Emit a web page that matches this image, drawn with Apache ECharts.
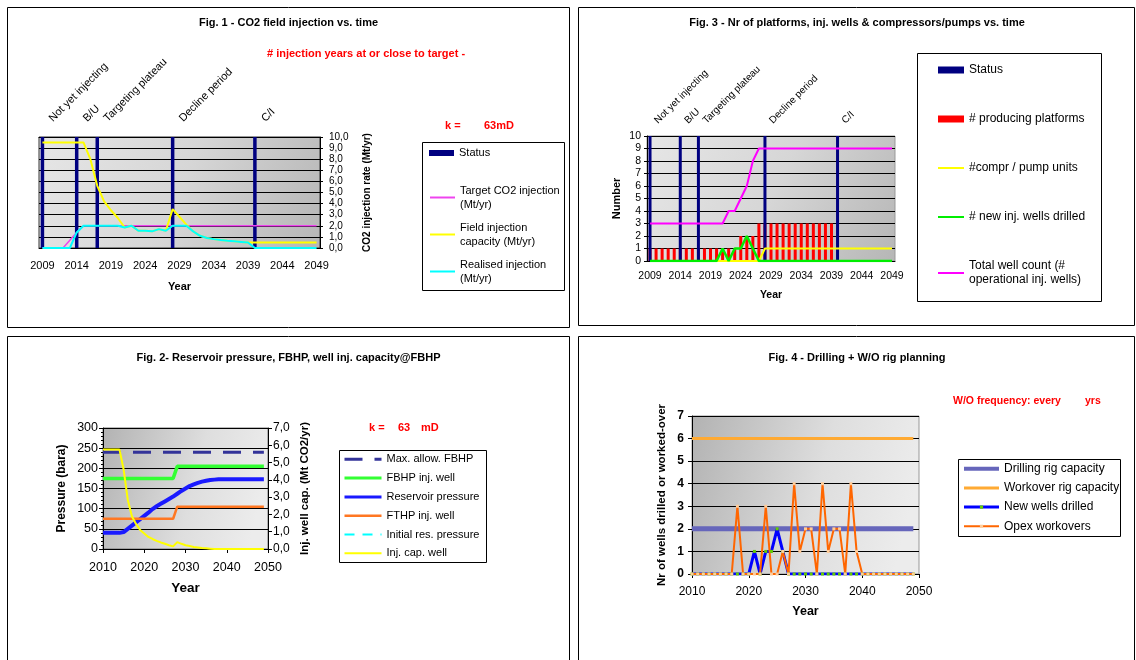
<!DOCTYPE html>
<html><head><meta charset="utf-8">
<script src="https://cdn.jsdelivr.net/npm/echarts@6/dist/echarts.min.js"></script>
<style>html,body{margin:0;padding:0;background:#fff}#c{width:1136px;height:660px}</style>
</head><body><div id="c"></div>
<script>
// ---------- categories ----------
const years1 = [2009,2010,2011,2012,2013,2014,2015,2016,2017,2018,2019,2020,2021,2022,2023,2024,2025,2026,2027,2028,2029,2030,2031,2032,2033,2034,2035,2036,2037,2038,2039,2040,2041,2042,2043,2044,2045,2046,2047,2048,2049];
const years2 = [2010,2011,2012,2013,2014,2015,2016,2017,2018,2019,2020,2021,2022,2023,2024,2025,2026,2027,2028,2029,2030,2031,2032,2033,2034,2035,2036,2037,2038,2039,2040,2041,2042,2043,2044,2045,2046,2047,2048,2049];
const statusYears = [2009, 2014, 2017, 2028, 2040];
const statusLabels = ['Not yet injecting', 'B/U', 'Targeting plateau', 'Decline period', 'C/I'];
const statusLevel = 10;

// ---------- Fig. 1 (2009-2049) ----------
const target1 = [0,0,0,0,0.7,1.4,2,2,2,2,2,2,2,2,2,2,2,2,2,2,2,2,2,2,2,2,2,2,2,2,2,2,2,2,2,2,2,2,2,2,2];
const fieldCap1 = [9.5,9.5,9.5,9.5,9.5,9.5,9.5,8.0,5.6,4.2,3.4,2.7,1.85,2.0,1.55,1.55,1.5,1.7,1.55,3.5,2.8,2.1,1.5,1.1,0.9,0.8,0.72,0.65,0.6,0.55,0.5,0.5,0.5,0.5,0.5,0.5,0.5,0.5,0.5,0.5,0.5];
const realised1 = [0,0,0,0,0,1.4,2,2,2,2,2,2,1.85,2.0,1.55,1.55,1.5,1.7,1.55,2,2,2,1.5,1.1,0.9,0.8,0.72,0.65,0.6,0.55,0.5,0,0,0,0,0,0,0,0,0,0];

// ---------- Fig. 3 (2009-2049) ----------
const platforms3 = [1,1,1,1,1,1,1,1,1,1,1,1,1,1,1,2,2,2,3,3,3,3,3,3,3,3,3,3,3,3,3,0,0,0,0,0,0,0,0,0,0];
const compr3 = [0,0,0,0,0,0,0,0,0,0,0,0,0,0,0,0,0,0,0,1,1,1,1,1,1,1,1,1,1,1,1,1,1,1,1,1,1,1,1,1,1];
const newWells3 = [0,0,0,0,0,0,0,0,0,0,0,0,1,0,1,1,2,1,0,0,0,0,0,0,0,0,0,0,0,0,0,0,0,0,0,0,0,0,0,0,0];
const totalWells3 = [3,3,3,3,3,3,3,3,3,3,3,3,3,4,4,5,6,8,9,9,9,9,9,9,9,9,9,9,9,9,9,9,9,9,9,9,9,9,9,9,9];

// ---------- Fig. 2 (2010-2049) ----------
const maxFbhp2 = [240,240,240,240,240,240,240,240,240,240,240,240,240,240,240,240,240,240,240,240,240,240,240,240,240,240,240,240,240,240,240,240,240,240,240,240,240,240,240,240];
const fbhp2 = [175,175,175,175,175,175,175,175,175,175,175,175,175,175,175,175,175,175,205,205,205,205,205,205,205,205,205,205,205,205,205,205,205,205,205,205,205,205,205,205];
const resP2 = [40,40,40,40,40,42,50,58,66,74,82,90,99,106,112,118,124,130,137,144,150,156,160,164,167,169,171,172,173,173,173,173,173,173,173,173,173,173,173,173];
const fthp2 = [75,75,75,75,75,75,75,75,75,75,75,75,75,75,75,75,75,75,105,105,105,105,105,105,105,105,105,105,105,105,105,105,105,105,105,105,105,105,105,105];
const initP2 = [40,40,40,40,40];
const injCap2 = [5.75,5.75,5.75,5.75,5.75,4.6,2.85,1.9,1.45,1.1,0.9,0.7,0.58,0.47,0.38,0.3,0.22,0.15,0.4,0.3,0.22,0.17,0.12,0.09,0.06,0.04,0.02,0,0,0,0,0,0,0,0,0,0,0,0,0];

// ---------- Fig. 4 (2010-2049) ----------
const drillCap4 = [2,2,2,2,2,2,2,2,2,2,2,2,2,2,2,2,2,2,2,2,2,2,2,2,2,2,2,2,2,2,2,2,2,2,2,2,2,2,2,2];
const woCap4 = [6,6,6,6,6,6,6,6,6,6,6,6,6,6,6,6,6,6,6,6,6,6,6,6,6,6,6,6,6,6,6,6,6,6,6,6,6,6,6,6];
const newWells4 = [0,0,0,0,0,0,0,0,0,0,0,1,0,1,1,2,1,0,0,0,0,0,0,0,0,0,0,0,0,0,0,0,0,0,0,0,0,0,0,0];
const opex4 = [0,0,0,0,0,0,0,0,3,0,0,0,0,3,0,0,1,0,4,1,2,2,0,4,1,2,2,0,4,1,0,0,0,0,0,0,0,0,0,0];

// ---------- helpers ----------
const FONT = '"Liberation Sans", Arial, sans-serif';
const comma = v => v.toFixed(1).replace('.', ',');
const plain = v => String(v);
const pairs = (xs, ys) => ys.map((v, i) => [xs[i], v]);
const noMark = (name, w) => w ? ({ name, itemStyle: { opacity: 0 }, lineStyle: { width: w } }) : ({ name, itemStyle: { opacity: 0 } });
function statusData(yrs) {
  return yrs.map(y => {
    const i = statusYears.indexOf(y);
    return i < 0 ? '-' : { value: statusLevel, label: { formatter: statusLabels[i] } };
  });
}
function gradA() { return { type:'linear', x:0, y:0, x2:1, y2:1, colorStops:[{offset:0,color:'#e6e6e6'},{offset:0.5,color:'#d6d6d6'},{offset:1,color:'#b6b6b6'}] }; }
function gradB() { return { type:'linear', x:0, y:0, x2:1, y2:0.35, colorStops:[{offset:0,color:'#b2b2b2'},{offset:0.6,color:'#dedede'},{offset:1,color:'#ececec'}] }; }
const blackLine = { lineStyle: { color: '#000', width: 1 } };
const txt = (x, y, text, font, color, align) => ({ type:'text', x, y, silent:true, style:{ text, font, fill: color || '#000', textAlign: align || 'center', textVerticalAlign:'middle' } });
const box = (x, y, w, h) => ({ type:'rect', shape:{ x, y, width:w, height:h }, silent:true, style:{ fill:'none', stroke:'#000', lineWidth:1 } });

const chart = echarts.init(document.getElementById('c'), null, { renderer: 'canvas' });
const option = {
  animation: false,
  textStyle: { fontFamily: FONT, color: '#000' },
  grid: [
    { left: 39, top: 137, width: 281, height: 111, show: true, backgroundColor: gradA(), borderColor: '#333', borderWidth: 1 },
    { left: 647, top: 136, width: 248, height: 125, show: true, backgroundColor: gradA(), borderColor: '#999', borderWidth: 1 },
    { left: 103, top: 428, width: 165, height: 121, show: true, backgroundColor: gradB(), borderColor: '#777', borderWidth: 1 },
    { left: 692, top: 416, width: 227, height: 158, show: true, backgroundColor: gradB(), borderColor: '#999', borderWidth: 1 }
  ],
  xAxis: [
    { gridIndex: 0, type: 'category', data: years1, position: 'bottom', axisLine: blackLine,
      axisTick: { interval: 4, alignWithLabel: true, length: 3, lineStyle: { color: '#000' } },
      axisLabel: { interval: 4, fontSize: 11, margin: 12, color: '#000' },
      name: 'Year', nameLocation: 'middle', nameGap: 33, nameTextStyle: { fontWeight: 'bold', fontSize: 11, color: '#000' } },
    { gridIndex: 0, type: 'category', data: years1, position: 'top', axisLine: blackLine,
      axisTick: { interval: 0, length: 3, lineStyle: { color: '#000' } }, axisLabel: { show: false } },
    { gridIndex: 1, type: 'category', data: years1, axisLine: blackLine,
      axisTick: { interval: 4, alignWithLabel: true, length: 3, lineStyle: { color: '#000' } },
      axisLabel: { interval: 4, fontSize: 10.5, margin: 10, color: '#000' },
      name: 'Year', nameLocation: 'middle', nameGap: 29, nameTextStyle: { fontWeight: 'bold', fontSize: 10.5, color: '#000' } },
    { gridIndex: 2, type: 'value', min: 2010, max: 2050, interval: 10, axisLine: blackLine,
      axisTick: { length: 4, lineStyle: { color: '#000' } }, splitLine: { show: false },
      axisLabel: { formatter: plain, fontSize: 12.5, margin: 12, color: '#000' },
      name: 'Year', nameLocation: 'middle', nameGap: 32, nameTextStyle: { fontWeight: 'bold', fontSize: 13.5, color: '#000' } },
    { gridIndex: 3, type: 'value', min: 2010, max: 2050, interval: 10, axisLine: blackLine,
      axisTick: { length: 4, lineStyle: { color: '#000' } }, splitLine: { show: false },
      axisLabel: { formatter: plain, fontSize: 12, margin: 12, color: '#000' },
      name: 'Year', nameLocation: 'middle', nameGap: 31, nameTextStyle: { fontWeight: 'bold', fontSize: 12.5, color: '#000' } }
  ],
  yAxis: [
    { gridIndex: 0, type: 'value', position: 'right', min: 0, max: 10, interval: 1, axisLine: { show: true, lineStyle: { color: '#000' } },
      axisTick: { show: true, length: 3, lineStyle: { color: '#000' } }, splitLine: blackLine,
      axisLabel: { formatter: comma, fontSize: 10, margin: 9, color: '#000' },
      name: 'CO2 injection rate (Mt/yr)', nameLocation: 'middle', nameRotate: 90, nameGap: 42, nameTextStyle: { fontWeight: 'bold', fontSize: 10, color: '#000' } },
    { gridIndex: 1, type: 'value', min: 0, max: 10, interval: 1, axisLine: { show: true, lineStyle: { color: '#000' } },
      axisTick: { show: true, length: 3, lineStyle: { color: '#000' } }, splitLine: blackLine,
      axisLabel: { fontSize: 10.5, margin: 6, color: '#000' },
      name: 'Number', nameLocation: 'middle', nameGap: 25, nameTextStyle: { fontWeight: 'bold', fontSize: 11, color: '#000' } },
    { gridIndex: 2, type: 'value', min: 0, max: 300, interval: 50, axisLine: { show: true, lineStyle: { color: '#000' } },
      axisTick: { show: true, length: 4, lineStyle: { color: '#000' } }, minorTick: { show: true, splitNumber: 5, length: 2, lineStyle: { color: '#000' } },
      splitLine: blackLine,
      axisLabel: { fontSize: 12.5, margin: 5, color: '#000' },
      name: 'Pressure (bara)', nameLocation: 'middle', nameGap: 35, nameTextStyle: { fontWeight: 'bold', fontSize: 12, color: '#000' } },
    { gridIndex: 2, type: 'value', position: 'right', min: 0, max: 7, interval: 1, axisLine: { show: true, lineStyle: { color: '#000' } },
      axisTick: { show: true, length: 4, lineStyle: { color: '#000' } }, splitLine: { show: false },
      axisLabel: { formatter: comma, fontSize: 12, margin: 5, color: '#000' },
      name: 'Inj. well cap. (Mt CO2/yr)', nameLocation: 'middle', nameRotate: 90, nameGap: 31, nameTextStyle: { fontWeight: 'bold', fontSize: 11.5, color: '#000' } },
    { gridIndex: 3, type: 'value', min: 0, max: 7, interval: 1, axisLine: { show: true, lineStyle: { color: '#000' } },
      axisTick: { show: true, length: 4, lineStyle: { color: '#000' } }, splitLine: blackLine,
      axisLabel: { fontSize: 12, fontWeight: 'bold', margin: 8, color: '#000' },
      name: 'Nr of wells drilled or worked-over', nameLocation: 'middle', nameGap: 24, nameTextStyle: { fontWeight: 'bold', fontSize: 11.5, color: '#000' } }
  ],
  legend: [
    { data: [{ name: 'Status', icon: 'rect' }], left: 429, top: 146, orient: 'vertical', padding: 0, itemWidth: 25, itemHeight: 6, selectedMode: false,
      textStyle: { fontSize: 11, lineHeight: 14, color: '#000' } },
    { data: [noMark('Target CO2 injection\n(Mt/yr)'), noMark('Field injection\ncapacity (Mt/yr)'), noMark('Realised injection\n(Mt/yr)')], left: 429, top: 183.5, orient: 'vertical', padding: 0, itemGap: 9, itemWidth: 25, itemHeight: 8, selectedMode: false,
      textStyle: { fontSize: 11, lineHeight: 14, color: '#000' } },
    { data: [{ name: 'Status ', icon: 'rect' }, { name: '# producing platforms', icon: 'rect' }, noMark('#compr / pump units'), noMark('# new inj. wells drilled'), noMark('Total well count (#\noperational inj. wells)')],
      left: 937, top: 63, orient: 'vertical', padding: 0, itemGap: 35, itemWidth: 26, itemHeight: 7, selectedMode: false,
      textStyle: { fontSize: 12, lineHeight: 14, color: '#000' } },
    { data: [noMark('Max. allow. FBHP', 3), noMark('FBHP inj. well', 3), noMark('Reservoir pressure', 3), noMark('FTHP inj. well', 2.5), noMark('Initial res. pressure', 2), noMark('Inj. cap. well', 2)],
      left: 343, top: 452.8, orient: 'vertical', padding: 0, itemGap: 5.8, itemWidth: 37, itemHeight: 8, selectedMode: false,
      textStyle: { fontSize: 11, lineHeight: 13, color: '#000' } },
    { data: [noMark('Drilling rig capacity', 4), noMark('Workover rig capacity', 3), { name: 'New wells drilled', lineStyle: { width: 3 } }, { name: 'Opex workovers', lineStyle: { width: 2 } }],
      left: 962, top: 461.7, orient: 'vertical', padding: 0, itemGap: 5.2, itemWidth: 35, itemHeight: 4, selectedMode: false,
      textStyle: { fontSize: 12, lineHeight: 14, color: '#000' } }
  ],
  series: [
    // Fig. 1
    { name: 'Status', type: 'bar', xAxisIndex: 0, yAxisIndex: 0, data: statusData(years1), barWidth: 3.5, itemStyle: { color: '#000080' },
      label: { show: true, position: 'top', distance: 15, offset: [7.3, 4.5], rotate: 45, align: 'left', verticalAlign: 'middle', fontSize: 11, color: '#000', fontFamily: FONT } },
    { name: 'Target CO2 injection\n(Mt/yr)', type: 'line', xAxisIndex: 0, yAxisIndex: 0, data: target1, symbol: 'none', lineStyle: { color: '#ee44ee', width: 1.5 }, itemStyle: { color: '#ee44ee' } },
    { name: 'Field injection\ncapacity (Mt/yr)', type: 'line', xAxisIndex: 0, yAxisIndex: 0, data: fieldCap1, symbol: 'none', lineStyle: { color: '#ffff00', width: 2 }, itemStyle: { color: '#ffff00' } },
    { name: 'Realised injection\n(Mt/yr)', type: 'line', xAxisIndex: 0, yAxisIndex: 0, data: realised1, symbol: 'none', lineStyle: { color: '#00ffff', width: 2 }, itemStyle: { color: '#00ffff' } },
    // Fig. 3
    { name: '# producing platforms', type: 'bar', xAxisIndex: 2, yAxisIndex: 1, data: platforms3, barWidth: 3, barGap: '-100%', itemStyle: { color: '#ff0000' } },
    { name: 'Status ', type: 'bar', xAxisIndex: 2, yAxisIndex: 1, data: statusData(years1), barWidth: 3, barGap: '-100%', itemStyle: { color: '#000080' },
      label: { show: true, position: 'top', distance: 13, offset: [5, 3.6], rotate: 45, align: 'left', verticalAlign: 'middle', fontSize: 10, color: '#000', fontFamily: FONT } },
    { name: '#compr / pump units', type: 'line', xAxisIndex: 2, yAxisIndex: 1, data: compr3, symbol: 'none', lineStyle: { color: '#ffff00', width: 2 }, itemStyle: { color: '#ffff00' } },
    { name: '# new inj. wells drilled', type: 'line', xAxisIndex: 2, yAxisIndex: 1, data: newWells3, symbol: 'none', lineStyle: { color: '#00ee00', width: 2.5 }, itemStyle: { color: '#00ee00' } },
    { name: 'Total well count (#\noperational inj. wells)', type: 'line', xAxisIndex: 2, yAxisIndex: 1, data: totalWells3, symbol: 'none', lineStyle: { color: '#ff00ff', width: 2 }, itemStyle: { color: '#ff00ff' } },
    // Fig. 2
    { name: 'Initial res. pressure', type: 'line', xAxisIndex: 3, yAxisIndex: 2, data: pairs(years2, initP2), symbol: 'none', lineStyle: { color: '#00ffff', width: 2, type: [10, 8] }, itemStyle: { color: '#00ffff' } },
    { name: 'Max. allow. FBHP', type: 'line', xAxisIndex: 3, yAxisIndex: 2, data: pairs(years2, maxFbhp2), symbol: 'none', lineStyle: { color: '#333399', width: 3, type: [18, 12] }, itemStyle: { color: '#333399' } },
    { name: 'FBHP inj. well', type: 'line', xAxisIndex: 3, yAxisIndex: 2, data: pairs(years2, fbhp2), symbol: 'none', lineStyle: { color: '#33ff33', width: 3.5 }, itemStyle: { color: '#33ff33' } },
    { name: 'Reservoir pressure', type: 'line', xAxisIndex: 3, yAxisIndex: 2, data: pairs(years2, resP2), symbol: 'none', lineStyle: { color: '#1a1aff', width: 4 }, itemStyle: { color: '#1a1aff' } },
    { name: 'FTHP inj. well', type: 'line', xAxisIndex: 3, yAxisIndex: 2, data: pairs(years2, fthp2), symbol: 'none', lineStyle: { color: '#ff7722', width: 2.5 }, itemStyle: { color: '#ff7722' } },
    { name: 'Inj. cap. well', type: 'line', xAxisIndex: 3, yAxisIndex: 3, data: pairs(years2, injCap2), symbol: 'none', lineStyle: { color: '#ffff00', width: 2 }, itemStyle: { color: '#ffff00' } },
    // Fig. 4
    { name: 'Drilling rig capacity', type: 'line', xAxisIndex: 4, yAxisIndex: 4, data: pairs(years2, drillCap4), symbol: 'none', lineStyle: { color: '#6666bb', width: 5 }, itemStyle: { color: '#6666bb' } },
    { name: 'Workover rig capacity', type: 'line', xAxisIndex: 4, yAxisIndex: 4, data: pairs(years2, woCap4), symbol: 'none', lineStyle: { color: '#ffaa33', width: 3 }, itemStyle: { color: '#ffaa33' } },
    { name: 'New wells drilled', type: 'line', xAxisIndex: 4, yAxisIndex: 4, data: pairs(years2, newWells4), symbol: 'rect', symbolSize: 3, showSymbol: true, lineStyle: { color: '#0000ff', width: 3 }, itemStyle: { color: '#66cc00', borderWidth: 0 } },
    { name: 'Opex workovers', type: 'line', xAxisIndex: 4, yAxisIndex: 4, data: pairs(years2, opex4), symbol: 'rect', symbolSize: 3, showSymbol: true, lineStyle: { color: '#ff6600', width: 2 }, itemStyle: { color: '#ffcc99', borderWidth: 0 } }
  ],
  graphic: [
    box(7.5, 7.5, 562, 320), box(578.5, 7.5, 556, 318), box(7.5, 336.5, 562, 330), box(578.5, 336.5, 556, 330),
    box(422.5, 142.5, 142, 148), box(917.5, 53.5, 184, 248), box(339.5, 450.5, 147, 112), box(958.5, 459.5, 162, 77),
    txt(288.5, 23, 'Fig. 1 - CO2 field injection vs. time', 'bold 11px ' + FONT),
    txt(857, 23, 'Fig. 3 - Nr of platforms, inj. wells & compressors/pumps vs. time', 'bold 11px ' + FONT),
    txt(288.5, 358, 'Fig. 2- Reservoir pressure, FBHP, well inj. capacity@FBHP', 'bold 11px ' + FONT),
    txt(857, 358, 'Fig. 4 - Drilling + W/O rig planning', 'bold 11px ' + FONT),
    txt(267, 54, '# injection years at or close to target -', 'bold 11px ' + FONT, '#ff0000', 'left'),
    txt(445, 126, 'k =', 'bold 11px ' + FONT, '#ff0000', 'left'),
    txt(484, 126, '63mD', 'bold 11px ' + FONT, '#ff0000', 'left'),
    txt(369, 428, 'k =', 'bold 11px ' + FONT, '#ff0000', 'left'),
    txt(398, 428, '63', 'bold 11px ' + FONT, '#ff0000', 'left'),
    txt(421, 428, 'mD', 'bold 11px ' + FONT, '#ff0000', 'left'),
    txt(953, 401, 'W/O frequency: every', 'bold 10.5px ' + FONT, '#ff0000', 'left'),
    txt(1085, 401, 'yrs', 'bold 10.5px ' + FONT, '#ff0000', 'left')
  ]
};
chart.setOption(option);
</script>
</body></html>
